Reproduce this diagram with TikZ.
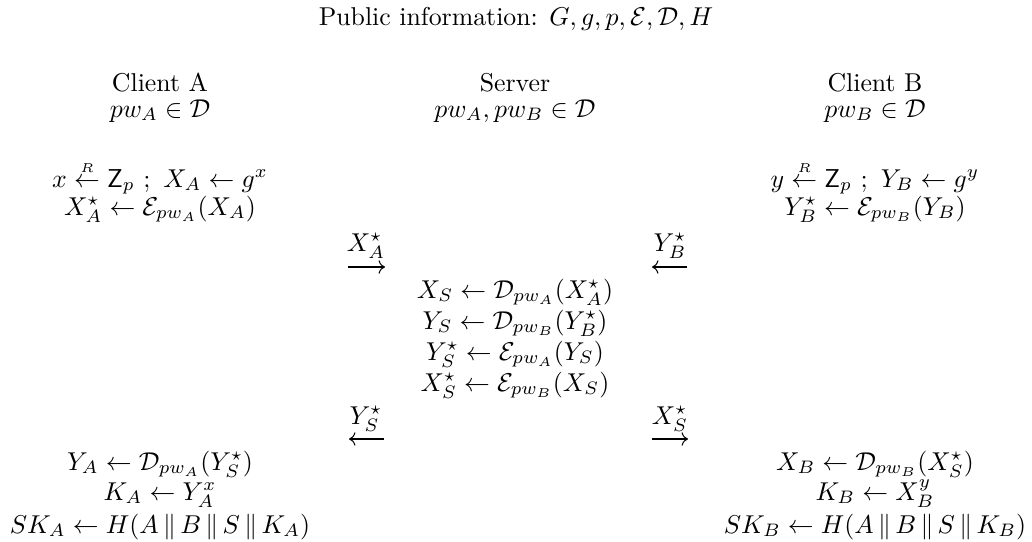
\documentclass[tikz,border=0pt]{standalone}
\usepackage{amsmath}
\usepackage{amssymb}
\usetikzlibrary{arrows.meta, positioning}

\tikzset{
  txt/.style={anchor=base, inner sep=0pt},
  msg/.style={-{Computer Modern Rightarrow}, line width=0.4pt},
}
\newcommand{\cat}{\,\|\,}

\begin{document}
\begin{tikzpicture}[x=0.3876pt, y=-0.3876pt]
        \useasboundingbox (0,0) rectangle (1032,541);
        % public parameters
        \node[txt] (pub) at (516,25) {Public information: $G, g, p, \mathcal{E}, \mathcal{D}, H$};
        % parties
        \node[txt] (cliA) at (160,91) {Client A};
        \node[txt] (pwA) at (160,117) {$pw_A \in \mathcal{D}$};
        \node[txt] (srv) at (515,91) {Server};
        \node[txt] (pwS) at (515,117) {$pw_A, pw_B \in \mathcal{D}$};
        \node[txt] (cliB) at (875,91) {Client B};
        \node[txt] (pwB) at (875,117) {$pw_B \in \mathcal{D}$};
        % first flow
        \node[txt] (a1) at (160,187) {$x \overset{\scriptscriptstyle R}{\leftarrow} \mathsf{Z}_p\ ;\ X_A \leftarrow g^x$};
        \node[txt] (a2) at (160,215) {$X_A^\star \leftarrow \mathcal{E}_{pw_A}(X_A)$};
        \node[txt] (b1) at (875,187) {$y \overset{\scriptscriptstyle R}{\leftarrow} \mathsf{Z}_p\ ;\ Y_B \leftarrow g^y$};
        \node[txt] (b2) at (875,215) {$Y_B^\star \leftarrow \mathcal{E}_{pw_B}(Y_B)$};
        \node[txt] (m1) at (366,251) {$X_A^\star$};
        \coordinate (m1s) at (348,267);
        \coordinate (m1e) at (385,267);
        \draw[msg] (m1s) -- (m1e);
        \node[txt] (m2) at (670,251) {$Y_B^\star$};
        \coordinate (m2s) at (687,267);
        \coordinate (m2e) at (652,267);
        \draw[msg] (m2s) -- (m2e);
        % server
        \node[txt] (s1) at (515,298) {$X_S \leftarrow \mathcal{D}_{pw_A}(X_A^\star)$};
        \node[txt] (s2) at (515,329) {$Y_S \leftarrow \mathcal{D}_{pw_B}(Y_B^\star)$};
        \node[txt] (s3) at (515,360) {$Y_S^\star \leftarrow \mathcal{E}_{pw_A}(Y_S)$};
        \node[txt] (s4) at (515,391) {$X_S^\star \leftarrow \mathcal{E}_{pw_B}(X_S)$};
        % second flow
        \node[txt] (m3) at (366,424) {$Y_S^\star$};
        \coordinate (m3s) at (384,439);
        \coordinate (m3e) at (349,439);
        \draw[msg] (m3s) -- (m3e);
        \node[txt] (m4) at (670,424) {$X_S^\star$};
        \coordinate (m4s) at (652,439);
        \coordinate (m4e) at (688,439);
        \draw[msg] (m4s) -- (m4e);
        \node[txt] (a3) at (160,470) {$Y_A \leftarrow \mathcal{D}_{pw_A}(Y_S^\star)$};
        \node[txt] (a4) at (160,500) {$K_A \leftarrow Y_A^x$};
        \node[txt] (a5) at (160,533) {$SK_A \leftarrow H(A \cat B \cat S \cat K_A)$};
        \node[txt] (b3) at (875,470) {$X_B \leftarrow \mathcal{D}_{pw_B}(X_S^\star)$};
        \node[txt] (b4) at (875,500) {$K_B \leftarrow X_B^y$};
        \node[txt] (b5) at (875,533) {$SK_B \leftarrow H(A \cat B \cat S \cat K_B)$};
      \end{tikzpicture}
\end{document}
